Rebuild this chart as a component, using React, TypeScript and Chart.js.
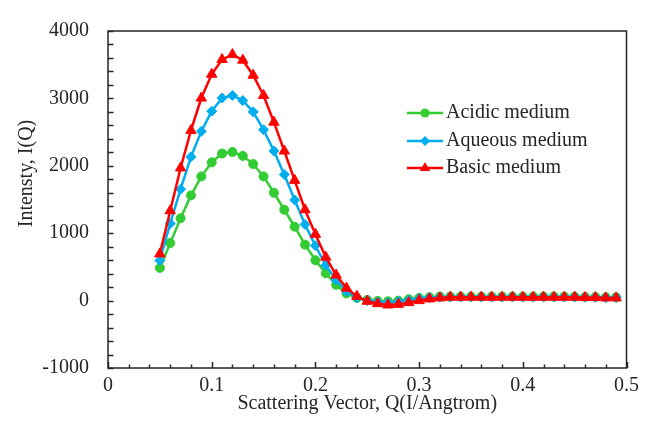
import React, { useEffect, useRef } from "react";
import { Chart, registerables } from "chart.js";

Chart.register(...registerables);

const qValues = [
  0.05, 0.06, 0.07, 0.08, 0.09, 0.1, 0.11, 0.12, 0.13, 0.14, 0.15, 0.16, 0.17, 0.18, 0.19,
  0.2, 0.21, 0.22, 0.23, 0.24, 0.25, 0.26, 0.27, 0.28, 0.29, 0.3, 0.31, 0.32, 0.33, 0.34,
  0.35, 0.36, 0.37, 0.38, 0.39, 0.4, 0.41, 0.42, 0.43, 0.44, 0.45, 0.46, 0.47, 0.48, 0.49,
];

const acidic = [
  485, 853, 1222, 1561, 1842, 2051, 2182, 2205, 2147, 2026, 1842, 1600, 1348, 1096, 830,
  600, 405, 234, 105, 40, 10, -5, -10, 0, 20, 40, 50, 60, 60, 60,
  60, 60, 60, 60, 60, 60, 60, 60, 60, 60, 60, 55, 55, 50, 50,
];

const aqueous = [
  595, 1144, 1653, 2133, 2511, 2811, 3005, 3044, 2967, 2801, 2535, 2220, 1871, 1493, 1130,
  815, 525, 307, 137, 45, 0, -20, -30, -15, 5, 30, 45, 50, 55, 55,
  55, 55, 55, 55, 55, 55, 55, 55, 55, 55, 55, 50, 50, 45, 45,
];

const basic = [
  693, 1333, 1968, 2525, 3005, 3358, 3577, 3650, 3567, 3344, 3044, 2647, 2220, 1784, 1348,
  984, 645, 379, 185, 64, -10, -45, -65, -55, -30, 0, 25, 40, 50, 50,
  50, 50, 50, 50, 50, 50, 50, 50, 50, 50, 50, 45, 45, 40, 40,
];

const seriesNames = ["Acidic medium", "Aqueous medium", "Basic medium"];
const xTitle = "Scattering Vector, Q(I/Angtrom)";
const yTitle = "Intensty, I(Q)";

const FONT = "'Liberation Serif', 'Times New Roman', serif";
const TEXT = "#262626";

function drawPoint(ctx: CanvasRenderingContext2D, style: string, r: number, x: number, y: number) {
  ctx.beginPath();
  if (style === "circle") {
    ctx.arc(x, y, r, 0, Math.PI * 2);
  } else if (style === "rectRot") {
    ctx.moveTo(x, y - r);
    ctx.lineTo(x + r, y);
    ctx.lineTo(x, y + r);
    ctx.lineTo(x - r, y);
    ctx.closePath();
  } else if (style === "triangle") {
    ctx.moveTo(x, y - r);
    ctx.lineTo(x + r * 0.866, y + r * 0.5);
    ctx.lineTo(x - r * 0.866, y + r * 0.5);
    ctx.closePath();
  }
  ctx.fill();
}

const overlay = {
  id: "overlay",
  afterDatasetsDraw(chart: any) {
    const { ctx, chartArea, scales } = chart;
    const xs = scales.x;
    const ys = scales.y;
    ctx.save();
    ctx.strokeStyle = "#262626";
    ctx.lineWidth = 1.5;
    ctx.strokeRect(chartArea.left, chartArea.top, chartArea.right - chartArea.left, chartArea.bottom - chartArea.top);
    for (let i = 0; i <= 25; i++) {
      const v = i * 0.02;
      const px = Math.round(xs.getPixelForValue(v)) + 0.5;
      const len = i % 5 === 0 ? 6 : 3.5;
      ctx.beginPath();
      ctx.moveTo(px, chartArea.bottom);
      ctx.lineTo(px, chartArea.bottom - len);
      ctx.stroke();
    }
    for (let i = 0; i <= 25; i++) {
      const v = -1000 + i * 200;
      const py = Math.round(ys.getPixelForValue(v)) + 0.5;
      ctx.beginPath();
      ctx.moveTo(chartArea.left, py);
      ctx.lineTo(chartArea.left + 5.5, py);
      ctx.stroke();
    }
    ctx.fillStyle = TEXT;
    ctx.font = `20px ${FONT}`;
    ctx.textAlign = "center";
    ctx.textBaseline = "middle";
    ctx.fillText(xTitle, (chartArea.left + chartArea.right) / 2, 404);
    ctx.save();
    ctx.translate(27, (chartArea.top + chartArea.bottom) / 2 - 26);
    ctx.rotate(-Math.PI / 2);
    ctx.fillText(yTitle, 0, 0);
    ctx.restore();
    const legendY = [113, 141, 168];
    chart.data.datasets.forEach((ds: any, i: number) => {
      const y = legendY[i];
      ctx.strokeStyle = ds.borderColor;
      ctx.lineWidth = 2.5;
      ctx.beginPath();
      ctx.moveTo(407, y);
      ctx.lineTo(443, y);
      ctx.stroke();
      ctx.fillStyle = ds.pointBackgroundColor;
      drawPoint(ctx, ds.pointStyle, ds.pointRadius, 425, y);
      ctx.fillStyle = TEXT;
      ctx.textAlign = "left";
      ctx.font = `20px ${FONT}`;
      ctx.fillText(ds.label, 446, y);
    });
    ctx.restore();
  },
};

export default function App() {
  const ref = useRef<HTMLCanvasElement | null>(null);
  useEffect(() => {
    document.body.style.margin = "0";
    const canvas = ref.current;
    if (!canvas) return;
    const mk = (vals: number[]) => vals.map((v, i) => ({ x: qValues[i], y: v }));
    const chart = new Chart(canvas, {
      type: "line",
      data: {
        datasets: [
          {
            label: seriesNames[0],
            data: mk(acidic),
            order: 3,
            borderColor: "#33CC33",
            backgroundColor: "#33CC33",
            pointBackgroundColor: "#33CC33",
            pointBorderColor: "#33CC33",
            pointStyle: "circle",
            pointRadius: 4.5,
            borderWidth: 2.5,
            pointBorderWidth: 1,
          },
          {
            label: seriesNames[1],
            data: mk(aqueous),
            order: 2,
            borderColor: "#00AEEF",
            backgroundColor: "#00AEEF",
            pointBackgroundColor: "#00AEEF",
            pointBorderColor: "#00AEEF",
            pointStyle: "rectRot",
            pointRadius: 5,
            borderWidth: 2.5,
            pointBorderWidth: 1,
          },
          {
            label: seriesNames[2],
            data: mk(basic),
            order: 1,
            borderColor: "#FF0000",
            backgroundColor: "#FF0000",
            pointBackgroundColor: "#FF0000",
            pointBorderColor: "#FF0000",
            pointStyle: "triangle",
            pointRadius: 6,
            borderWidth: 2.5,
            pointBorderWidth: 1,
          },
        ] as any,
      },
      options: {
        responsive: false,
        animation: false,
        layout: { padding: { left: 0, right: 17, top: 25, bottom: 0 } },
        plugins: { legend: { display: false }, tooltip: { enabled: false } },
        scales: {
          x: {
            type: "linear",
            min: 0,
            max: 0.5,
            grid: { drawOnChartArea: false, drawTicks: false, color: "transparent" },
            border: { display: false },
            ticks: {
              stepSize: 0.1,
              padding: 6,
              color: TEXT,
              font: { family: FONT, size: 20 },
              maxRotation: 0,
              callback: (v: any) => String(Math.round(Number(v) * 10) / 10),
            },
            afterFit: (s: any) => {
              s.height = 57;
            },
          },
          y: {
            type: "linear",
            min: -1000,
            max: 4000,
            grid: { drawOnChartArea: false, drawTicks: false, color: "transparent" },
            border: { display: false },
            ticks: {
              stepSize: 1000,
              padding: 19,
              color: TEXT,
              font: { family: FONT, size: 20 },
              callback: (v: any) => String(Math.round(Number(v))),
            },
            afterFit: (s: any) => {
              s.width = 108;
            },
          },
        },
      },
      plugins: [overlay],
    } as any);
    return () => chart.destroy();
  }, []);
  return <canvas ref={ref} width={645} height={425} style={{ display: "block" }} />;
}
